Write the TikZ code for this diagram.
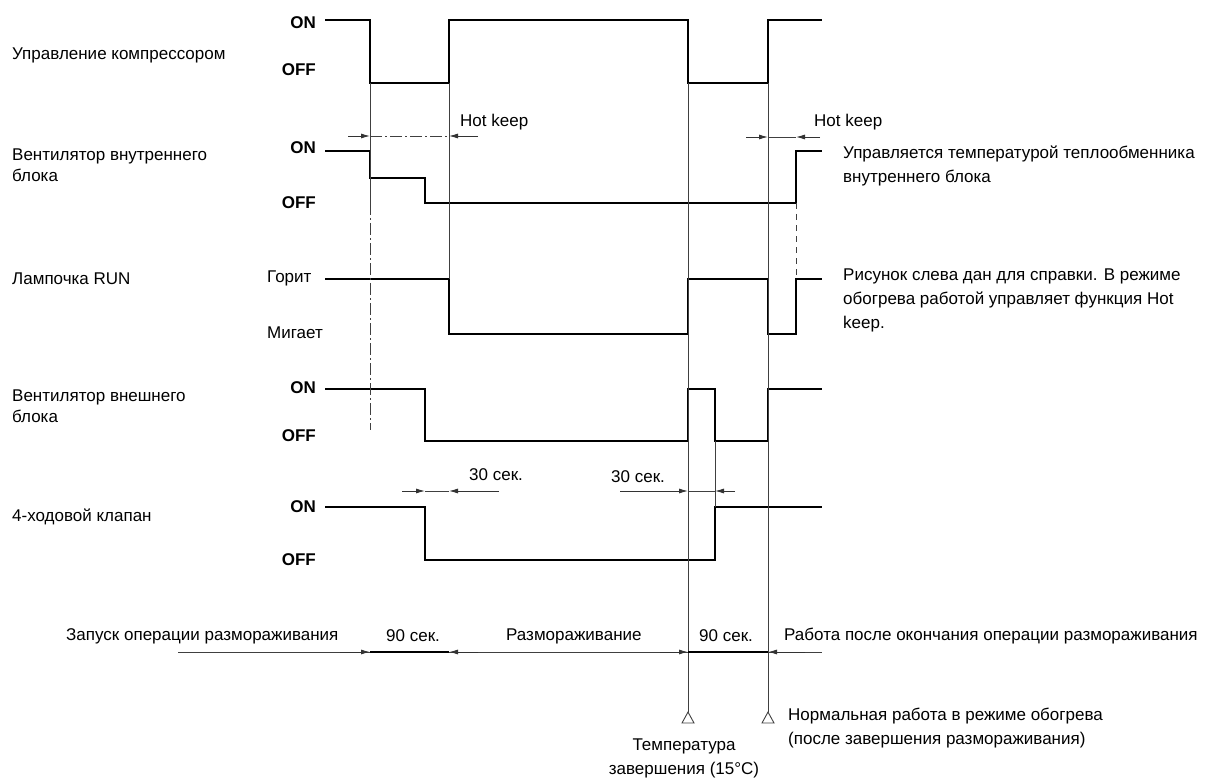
\documentclass[tikz,border=0pt]{standalone}
\usepackage{fontspec}
\setmainfont{Liberation Sans}
\usetikzlibrary{arrows.meta}

\begin{document}
\begin{tikzpicture}
	[x=1pt, y=-1pt,
	every node/.style={inner sep=0pt,font=\fontsize{17}{24}\selectfont},
	txt/.style={anchor=west,align=left},
	signame/.style={txt,font=\fontsize{17}{21.5}\selectfont},
	lvl/.style={anchor=east,font=\fontsize{17}{20}\selectfont\bfseries},
	sig/.style={line width=2.6pt,line join=miter},
	guide/.style={line width=0.9pt,black!75},
	dashdot/.style={guide,dash pattern=on 12pt off 3pt on 2pt off 3pt},
	dim/.style={line width=0.9pt,black!80,-{Latex[length=9pt,width=5pt]}},
	endmark/.style={guide,fill=white}]
	\useasboundingbox (0,0) rectangle (1215,778);
	% names of the signals
	\node (comp) [signame] at (12,55) {Управление компрессором};
	\node (fanin) [signame] at (12,165) {Вентилятор внутреннего\\блока};
	\node (run) [signame] at (12,279) {Лампочка RUN};
	\node (fanout) [signame] at (12,406) {Вентилятор внешнего\\блока};
	\node (valve) [signame] at (12,517) {4-ходовой клапан};
	% levels
	\node (on1) [lvl] at (316,23) {ON};
	\node (off1) [lvl] at (316,70) {OFF};
	\node (on2) [lvl] at (316,148) {ON};
	\node (off2) [lvl] at (316,203) {OFF};
	\node (lit) [txt] at (267,278) {Горит};
	\node (blink) [txt] at (267,333) {Мигает};
	\node (on4) [lvl] at (316,388) {ON};
	\node (off4) [lvl] at (316,436) {OFF};
	\node (on5) [lvl] at (316,507) {ON};
	\node (off5) [lvl] at (316,560) {OFF};
	% waveforms
	\draw [sig] (325,20) -- (370,20) -- (370,83) -- (449,83) -- (449,20) -- (688,20)
		-- (688,83) -- (768,83) -- (768,20) -- (822,20);
	\draw [sig] (325,151) -- (370,151) -- (370,178) -- (425,178) -- (425,203)
		-- (796,203) -- (796,151) -- (822,151);
	\draw [sig] (325,279) -- (449,279) -- (449,334) -- (688,334) -- (688,279)
		-- (768,279) -- (768,334) -- (796,334) -- (796,279) -- (822,279);
	\draw [sig] (325,389) -- (425,389) -- (425,441) -- (688,441) -- (688,389)
		-- (715,389) -- (715,441) -- (768,441) -- (768,389) -- (822,389);
	\draw [sig] (325,507) -- (425,507) -- (425,560) -- (715,560) -- (715,507) -- (822,507);
	% time marks
	\draw [guide] (370,83) -- (370,203);
	\draw [dashdot] (370,203) -- (370,430);
	\draw [guide] (449,83) -- (449,279);
	\draw [guide] (688,83) -- (688,712);
	\draw [guide] (715,441) -- (715,507);
	\draw [guide] (768,83) -- (768,712);
	\draw [guide,dash pattern=on 6pt off 5pt] (796,203) -- (796,279);
	\draw [endmark] (688,712) -- (682,723) -- (694,723) -- cycle;
	\draw [endmark] (768,712) -- (762,723) -- (774,723) -- cycle;
	% hot keep
	\node (hk1) [txt] at (460,122) {Hot keep};
	\draw [dim] (348,136) -- (370,136);
	\draw [dim] (478,136) -- (449,136);
	\draw [dashdot] (370,136) -- (449,136);
	\node (hk2) [txt] at (814,122) {Hot keep};
	\draw [dim] (746,137) -- (768,137);
	\draw [dim] (820,137) -- (796,137);
	\draw [guide] (768,137) -- (796,137);
	\node (note1) [txt] at (843,166) {Управляется температурой теплообменника\\внутреннего блока};
	\node (note2) [txt] at (843,300) {Рисунок слева дан для справки. В режиме\\обогрева работой управляет функция Hot\\keep.};
	% 30 s
	\node (s30a) [txt] at (469,475) {30 сек.};
	\draw [dim] (402,491) -- (425,491);
	\draw [dim] (499,491) -- (449,491);
	\draw [guide] (425,491) -- (449,491);
	\node (s30b) [txt] at (611,477) {30 сек.};
	\draw [dim] (620,491) -- (688,491);
	\draw [dim] (735,491) -- (715,491);
	\draw [guide] (688,491) -- (715,491);
	% time line
	\draw [guide] (178,652) -- (822,652);
	\draw [dim] (340,652) -- (370,652);
	\draw [dim] (478,652) -- (449,652);
	\draw [line width=1.6pt] (370,652) -- (449,652);
	\draw [dim] (660,652) -- (688,652);
	\draw [dim] (805,652) -- (768,652);
	\draw [line width=1.6pt] (688,652) -- (768,652);
	\node (start) [txt] at (66,636) {Запуск операции размораживания};
	\node (t90a) [txt] at (386,636) {90 сек.};
	\node (defrost) [txt] at (506,636) {Размораживание};
	\node (t90b) [txt] at (699,636) {90 сек.};
	\node (after) [txt] at (784,636) {Работа после окончания операции размораживания};
	\node (endtemp) [align=center] at (684,758) {Температура\\завершения (15°C)};
	\node (normal) [txt] at (788,728) {Нормальная работа в режиме обогрева\\(после завершения размораживания)};
\end{tikzpicture}
\end{document}
